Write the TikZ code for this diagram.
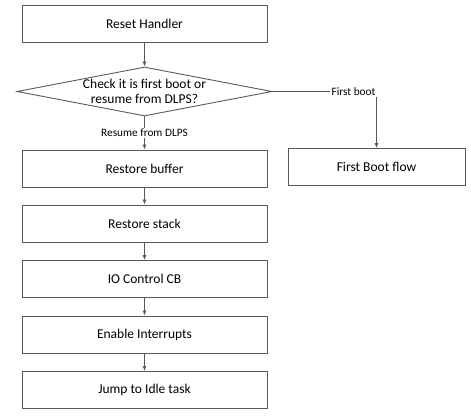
\documentclass[tikz,border=0pt]{standalone}
\usepackage{fontspec}
\setmainfont{Carlito}
\usetikzlibrary{arrows.meta}
\usetikzlibrary{positioning}
\usetikzlibrary{shapes.geometric}
\definecolor{linegray}{rgb}{0.35,0.35,0.35}

\begin{document}
\begin{tikzpicture}[x=1pt,y=-1pt,
		stepbox/.style={draw=linegray, line width=0.9pt, minimum width=245pt, minimum height=37pt, font=\fontsize{13.5}{16}\selectfont},
		decide/.style={diamond, draw=linegray, line width=0.9pt, aspect=5.2, inner sep=0pt, minimum width=255pt, minimum height=49pt, align=center, font=\fontsize{13.5}{15.5}\selectfont},
		lbl/.style={inner sep=1pt, font=\fontsize{11.3}{13}\selectfont},
		arr/.style={draw=linegray, line width=0.8pt, -{Latex[length=5pt, width=4pt]}}]
	\useasboundingbox (0,0) rectangle (471,418);
	\node[stepbox] (reset) at (144.5,23.5) {Reset Handler};
	\node[decide] (check) at (144.5,91.5) {Check it is first boot or\\resume from DLPS?};
	\node[lbl] (lblfirst) at (353.5,91.5) {First boot};
	\node[lbl] (lblresume) at (144.5,133) {Resume from DLPS};
	\node[stepbox, minimum width=177pt] (first) at (376.5,167) {First Boot flow};
	\node[stepbox] (restbuf) at (144.5,168.5) {Restore buffer};
	\node[stepbox] (reststack) at (144.5,223.5) {Restore stack};
	\node[stepbox] (ioctrl) at (144.5,279) {IO Control CB};
	\node[stepbox] (enirq) at (144.5,334.5) {Enable Interrupts};
	\node[stepbox] (idle) at (144.5,390) {Jump to Idle task};
	% connectors
	\draw[arr] (reset) -- (check);
	\draw[draw=linegray, line width=0.8pt] (check.east) -- (lblfirst.west);
	\draw[arr] (lblfirst.south -| first.north) -- (first.north);
	\draw[draw=linegray, line width=0.8pt] (check.south) -- (lblresume.north);
	\draw[arr] (lblresume) -- (restbuf);
	\foreach \a/\b in {restbuf/reststack, reststack/ioctrl, ioctrl/enirq, enirq/idle} {
		\draw[arr] (\a) -- (\b);
	}
\end{tikzpicture}
\end{document}
